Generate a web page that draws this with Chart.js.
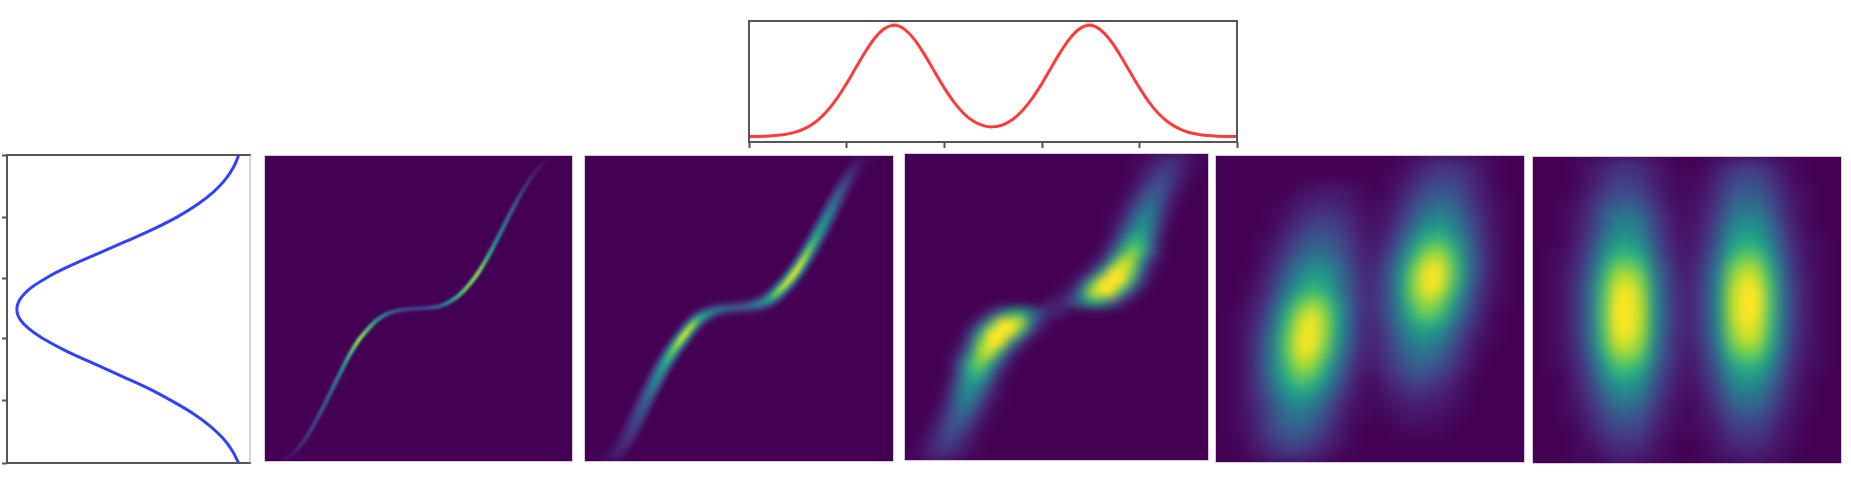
<!DOCTYPE html>
<html>
<head>
<meta charset="utf-8">
<title>Density panels</title>
<script src="https://cdn.jsdelivr.net/npm/chart.js@4/dist/chart.umd.min.js"></script>
<style>
  html, body { margin: 0; padding: 0; background: #fff; overflow: hidden; }
  #page { position: relative; width: 1851px; height: 478px; }
  .panel { position: absolute; overflow: hidden; outline: 1px solid rgba(190, 165, 200, .6); }
  .panel canvas { position: absolute; background: #440154; }
  .plot { position: absolute; filter: blur(.6px); }
</style>
</head>
<body>
<div id="page"></div>
<script>
// top marginal (red)
var topX = [0,.1,.2,.3,.4,.5,.6,.7,.8,.9,1,1.1,1.2,1.3,1.4,1.5,1.6,1.7,1.8,1.9,2,2.1,2.2,2.3,2.4,2.5,2.6,2.7,2.8,2.9,3,3.1,3.2,3.3,3.4,3.5,3.6,3.7,3.8,3.9,4,4.1,4.2,4.3,4.4,4.5,4.6,4.7,4.8,4.9,5];
var topY = [.045,.046,.049,.055,.067,.088,.123,.177,.256,.359,.484,.622,.756,.87,.943,.964,.927,.842,.72,.582,.448,.33,.236,.171,.135,.125,.142,.186,.259,.359,.482,.62,.755,.868,.943,.964,.928,.843,.721,.584,.449,.328,.232,.161,.112,.081,.063,.053,.048,.046,.045];
var topTicks = [0,1.004,2.008,3.01,3.997,5];
var topPeaks = [1.486,3.487];

// left marginal (blue)
var leftV = [.046,.068,.102,.15,.215,.297,.396,.509,.626,.741,.84,.915,.954,.955,.916,.843,.747,.635,.522,.412,.318,.233,.164,.111,.073,.047];
var leftU = [5,4.8,4.6,4.4,4.2,4,3.8,3.6,3.4,3.2,3,2.8,2.6,2.4,2.2,2,1.8,1.6,1.4,1.2,1,.8,.6,.4,.2,0];
var leftTicks = [0,1.013,2.015,2.99,3.99,5];

// panel 1, thin ridge
var ridge1X = [.06,.095,.125,.155,.185,.215,.245,.275,.305,.335,.365,.395,.43,.47,.5,.53,.57,.605,.635,.665,.695,.725,.755,.785,.815,.845,.875,.905,.94];
var ridge1Y = [.004,.028,.064,.112,.168,.228,.289,.348,.396,.432,.462,.481,.493,.498,.5,.502,.508,.524,.546,.578,.618,.668,.725,.784,.842,.895,.94,.974,.997];
var ridge1Core = [2,7,14,21,28,36,46,70,92,78,55,40,28,21,20,24,36,55,72,86,90,68,50,40,28,17,9,4,1];
var ridge1Halo = [1,3,7,10,14,18,23,34,46,38,27,20,14,10,10,12,18,27,36,42,44,33,25,20,14,8,4,2,0];

// panel 2, wider ridge
var ridge2X = [.075,.105,.135,.165,.195,.225,.255,.285,.315,.345,.375,.405,.44,.48,.52,.56,.595,.625,.655,.685,.715,.745,.775,.805,.835,.865,.89,.915];
var ridge2Y = [.005,.035,.078,.135,.198,.258,.315,.362,.403,.44,.468,.485,.497,.502,.506,.514,.53,.554,.585,.622,.668,.72,.775,.832,.888,.935,.97,.992];
var ridge2Core = [4,9,14,21,31,44,60,78,98,90,62,46,36,30,32,42,60,82,96,100,88,66,52,40,26,14,7,3];
var ridge2Mid = [2,5,10,16,23,32,44,54,60,56,38,24,16,13,14,20,36,50,60,62,56,44,36,28,16,8,3,1];
var ridge2Outer = [2,5,9,12,15,18,20,22,23,22,14,7,4,3,4,8,15,21,23,24,22,20,18,14,9,5,2,1];

// panel 3, two blobs with tails
var heat3 = [
  [0,0,0,0,0,0,0,0,0,0,0,0,0,0,0,0,0,0,0,0,0,0,1,2,5,9,11,8,3,1],
  [0,0,0,0,0,0,0,0,0,0,0,0,0,0,0,0,0,0,0,0,0,0,1,4,9,15,14,7,2,0],
  [0,0,0,0,0,0,0,0,0,0,0,0,0,0,0,0,0,0,0,0,0,0,2,7,16,20,13,5,1,0],
  [0,0,0,0,0,0,0,0,0,0,0,0,0,0,0,0,0,0,0,0,0,1,4,13,24,23,10,2,0,0],
  [0,0,0,0,0,0,0,0,0,0,0,0,0,0,0,0,0,0,0,0,0,2,9,23,31,20,6,1,0,0],
  [0,0,0,0,0,0,0,0,0,0,0,0,0,0,0,0,0,0,0,0,1,4,17,34,37,16,3,0,0,0],
  [0,0,0,0,0,0,0,0,0,0,0,0,0,0,0,0,0,0,0,0,2,9,28,44,36,12,1,0,0,0],
  [0,0,0,0,0,0,0,0,0,0,0,0,0,0,0,0,0,0,0,0,3,18,42,54,33,8,0,0,0,0],
  [0,0,0,0,0,0,0,0,0,0,0,0,0,0,0,0,0,0,0,1,8,34,62,60,28,4,0,0,0,0],
  [0,0,0,0,0,0,0,0,0,0,0,0,0,0,0,0,0,0,0,3,20,58,80,66,26,3,0,0,0,0],
  [0,0,0,0,0,0,0,0,0,0,0,0,0,0,0,0,0,0,2,12,52,92,86,46,10,1,0,0,0,0],
  [0,0,0,0,0,0,0,0,0,0,0,0,0,0,0,0,0,1,12,48,100,100,78,28,3,0,0,0,0,0],
  [0,0,0,0,0,0,0,0,0,0,0,0,0,0,0,0,2,16,62,100,100,100,60,14,1,0,0,0,0,0],
  [0,0,0,0,0,0,0,0,0,0,0,0,0,0,0,2,10,40,90,100,98,60,18,2,0,0,0,0,0,0],
  [0,0,0,0,0,0,0,0,0,0,0,0,0,0,7,8,20,36,58,56,30,10,1,0,0,0,0,0,0,0],
  [0,0,0,0,0,0,0,1,10,30,56,58,36,20,8,7,0,0,0,0,0,0,0,0,0,0,0,0,0,0],
  [0,0,0,0,0,0,2,18,60,98,100,90,40,10,2,0,0,0,0,0,0,0,0,0,0,0,0,0,0,0],
  [0,0,0,0,0,1,14,60,100,100,100,62,16,2,0,0,0,0,0,0,0,0,0,0,0,0,0,0,0,0],
  [0,0,0,0,0,3,28,78,100,100,48,12,1,0,0,0,0,0,0,0,0,0,0,0,0,0,0,0,0,0],
  [0,0,0,0,1,10,46,86,92,52,12,2,0,0,0,0,0,0,0,0,0,0,0,0,0,0,0,0,0,0],
  [0,0,0,0,3,26,66,80,58,20,3,0,0,0,0,0,0,0,0,0,0,0,0,0,0,0,0,0,0,0],
  [0,0,0,0,4,28,60,62,34,8,1,0,0,0,0,0,0,0,0,0,0,0,0,0,0,0,0,0,0,0],
  [0,0,0,0,8,33,54,42,18,3,0,0,0,0,0,0,0,0,0,0,0,0,0,0,0,0,0,0,0,0],
  [0,0,0,1,12,36,44,28,9,2,0,0,0,0,0,0,0,0,0,0,0,0,0,0,0,0,0,0,0,0],
  [0,0,0,3,16,37,34,17,4,1,0,0,0,0,0,0,0,0,0,0,0,0,0,0,0,0,0,0,0,0],
  [0,0,1,6,20,31,23,9,2,0,0,0,0,0,0,0,0,0,0,0,0,0,0,0,0,0,0,0,0,0],
  [0,0,2,10,23,24,13,4,1,0,0,0,0,0,0,0,0,0,0,0,0,0,0,0,0,0,0,0,0,0],
  [0,1,5,13,20,16,7,2,0,0,0,0,0,0,0,0,0,0,0,0,0,0,0,0,0,0,0,0,0,0],
  [0,2,7,14,15,9,4,1,0,0,0,0,0,0,0,0,0,0,0,0,0,0,0,0,0,0,0,0,0,0],
  [1,3,8,11,9,5,2,1,0,0,0,0,0,0,0,0,0,0,0,0,0,0,0,0,0,0,0,0,0,0]
];

// panel 4, tilted ellipses
var heat4 = [
  [0,0,0,0,0,0,0,0,0,0,0,0,0,0,1,3,5,7,7,5,3,1,0,0],
  [0,0,0,0,0,0,0,0,0,0,0,0,0,1,2,5,9,12,11,8,4,1,0,0],
  [0,0,0,0,0,0,1,2,3,3,2,1,0,1,4,8,14,17,15,10,5,2,0,0],
  [0,0,0,0,0,1,3,4,5,4,3,1,1,2,6,13,20,24,21,13,6,2,1,0],
  [0,0,0,0,1,2,5,8,9,8,5,2,2,3,9,19,29,33,28,17,8,3,1,0],
  [0,0,0,0,1,4,8,13,14,11,7,3,2,5,13,27,40,44,36,22,10,3,1,0],
  [0,0,0,1,2,7,13,18,20,15,9,4,3,8,20,39,55,59,46,27,11,4,1,0],
  [0,0,0,1,4,10,18,25,25,19,11,5,4,11,28,53,73,76,58,33,13,4,1,0],
  [0,0,0,2,6,16,27,37,36,26,14,5,7,15,37,67,90,89,65,34,14,4,1,0],
  [0,0,1,3,9,22,36,47,45,31,16,8,8,19,44,76,98,93,66,34,13,4,1,0],
  [0,0,1,4,12,28,46,58,52,35,17,7,8,20,45,76,94,86,59,29,10,3,1,0],
  [0,0,2,6,18,40,64,76,66,43,21,8,8,18,41,67,80,70,46,22,8,2,1,0],
  [0,1,3,8,25,53,80,92,77,48,22,8,8,18,37,58,68,58,37,17,6,1,0,0],
  [0,1,3,11,29,60,87,97,78,47,20,6,7,14,30,44,50,41,25,11,4,1,0,0],
  [0,1,4,13,34,65,92,97,75,44,19,6,6,12,24,35,38,30,18,8,2,1,0,0],
  [0,1,4,14,34,64,88,89,66,37,15,5,5,10,19,27,28,21,12,5,1,0,0,0],
  [0,1,4,14,34,59,78,76,54,29,11,4,4,9,15,21,21,16,9,4,1,0,0,0],
  [0,1,4,13,30,51,65,61,42,21,8,2,2,6,10,14,13,10,5,2,0,0,0,0],
  [0,1,4,11,25,41,50,45,30,15,5,2,1,4,6,8,7,5,3,1,0,0,0,0],
  [0,1,3,9,19,31,36,31,20,9,3,1,1,2,3,5,4,3,2,1,0,0,0,0],
  [0,1,3,8,16,25,28,23,14,6,2,1,0,1,2,3,2,2,1,0,0,0,0,0],
  [0,1,2,7,14,20,22,17,10,4,1,0,0,0,1,1,1,1,0,0,0,0,0,0],
  [0,0,2,5,9,13,14,10,6,3,1,0,0,0,0,0,0,0,0,0,0,0,0,0],
  [0,0,1,3,6,8,8,6,3,1,0,0,0,0,0,0,0,0,0,0,0,0,0,0]
];

// panel 5, upright ellipses
var heat5 = [
  [0,0,0,1,2,4,7,7,6,3,1,0,0,1,3,7,8,8,5,2,1,0,0,0],
  [0,0,0,1,3,6,10,10,8,4,2,1,1,2,6,11,14,13,9,4,1,0,0,0],
  [0,0,0,1,4,9,13,14,11,6,2,1,1,3,8,16,19,18,12,5,2,1,0,0],
  [0,0,1,2,6,13,19,20,16,8,3,1,2,4,10,21,25,24,16,7,3,1,0,0],
  [0,0,1,3,8,19,28,29,24,12,5,2,2,5,13,27,33,31,21,9,3,1,0,0],
  [0,0,1,4,10,22,33,35,29,14,6,2,3,7,17,34,42,40,27,12,4,1,0,0],
  [0,0,1,4,12,28,42,44,36,18,7,3,3,8,21,43,51,49,33,15,5,2,1,0],
  [0,1,2,6,16,36,53,55,46,22,9,3,4,10,26,52,63,61,41,18,6,2,1,0],
  [0,1,2,7,20,46,68,71,59,29,12,4,5,13,32,66,79,76,51,22,8,2,1,0],
  [0,1,3,9,24,55,82,85,71,34,14,5,5,15,36,75,90,86,58,25,9,3,1,0],
  [0,1,3,10,27,61,90,94,78,38,15,6,6,16,39,80,97,93,63,27,10,3,1,0],
  [0,1,3,10,28,63,94,98,81,40,16,6,6,16,40,82,99,95,64,28,10,3,1,0],
  [0,1,3,10,28,64,95,99,82,40,16,6,6,16,39,80,96,92,62,27,10,3,1,0],
  [0,1,3,10,27,62,92,96,80,39,16,6,6,15,37,75,91,87,59,26,9,3,1,0],
  [0,1,3,9,25,58,86,89,74,36,14,5,5,13,34,69,83,80,54,24,8,3,1,0],
  [0,1,2,8,22,50,74,77,64,31,12,5,4,11,28,57,69,66,45,20,7,2,1,0],
  [0,1,2,6,17,40,59,61,51,25,10,4,3,9,22,44,53,51,35,15,5,2,1,0],
  [0,0,1,5,13,31,46,48,39,19,8,3,3,7,17,34,42,40,27,12,4,1,0,0],
  [0,0,1,4,10,23,34,36,30,14,6,2,2,5,13,26,32,30,20,9,3,1,0,0],
  [0,0,1,3,8,17,26,27,22,11,4,2,1,4,10,20,24,23,15,7,2,1,0,0],
  [0,0,1,2,5,12,17,18,15,7,3,1,1,3,6,13,16,15,10,4,2,0,0,0],
  [0,0,0,1,4,8,12,13,11,5,2,1,1,2,4,9,11,10,7,3,1,0,0,0],
  [0,0,0,1,2,5,8,8,7,3,1,0,0,1,3,6,7,7,4,2,1,0,0,0],
  [0,0,0,1,1,3,5,5,4,2,1,0,0,1,2,3,4,4,3,1,0,0,0,0]
];

var viridisStops = [[68,1,84],[72,36,117],[65,68,135],[53,95,141],[42,120,142],[33,145,140],[34,168,132],[68,191,112],[122,209,81],[189,223,38],[253,231,37]];

function viridis(v) {
  var t = Math.min(Math.max(v / 100, 0), 1) * 10;
  var i = Math.min(Math.floor(t), 9);
  var f = t - i;
  var a = viridisStops[i], b = viridisStops[i + 1];
  return 'rgb(' + (a[0] + (b[0] - a[0]) * f) + ',' + (a[1] + (b[1] - a[1]) * f) + ',' + (a[2] + (b[2] - a[2]) * f) + ')';
}

function points(xs, ys) {
  return xs.map(function (x, i) { return { x: x, y: ys[i] }; });
}

var page = document.getElementById('page');
var pad = 20;

Chart.defaults.animation = false;
Chart.defaults.responsive = false;
Chart.defaults.plugins.legend.display = false;
Chart.defaults.plugins.tooltip.enabled = false;

function panelCanvas(left, top, w, h, blur) {
  var div = document.createElement('div');
  div.className = 'panel';
  div.style.cssText = 'left:' + left + 'px;top:' + top + 'px;width:' + w + 'px;height:' + h + 'px';
  var c = document.createElement('canvas');
  c.width = w + pad * 2;
  c.height = h + pad * 2;
  c.style.cssText = 'left:-' + pad + 'px;top:-' + pad + 'px;filter:blur(' + blur + 'px)';
  div.appendChild(c);
  page.appendChild(div);
  return c;
}

function plotCanvas(left, top, w, h) {
  var c = document.createElement('canvas');
  c.className = 'plot';
  c.width = w;
  c.height = h;
  c.style.left = left + 'px';
  c.style.top = top + 'px';
  page.appendChild(c);
  return c;
}

// each row is a dataset of floating bars, each bar one cell
// gain and tone make up for what the css blur takes away from peaks and flanks
function heatmap(canvas, rows, gain, tone) {
  var cols = rows[0].map(function (v, i) { return i; });
  new Chart(canvas, {
    type: 'bar',
    data: {
      labels: cols,
      datasets: rows.map(function (row, r) {
        return {
          data: cols.map(function () { return [r, r + 1]; }),
          backgroundColor: row.map(function (v) { return viridis(100 * Math.pow(v / 100, tone) * gain); }),
          borderWidth: 0,
          barPercentage: 1,
          categoryPercentage: 1,
          grouped: false
        };
      })
    },
    options: {
      layout: { padding: pad },
      scales: {
        x: { display: false },
        y: { display: false, min: 0, max: rows.length, reverse: true }
      }
    }
  });
}

// colour runs along the ridge, stops placed with the x scale
function ridgeGradient(chart, xs, vals) {
  var sx = chart.scales.x;
  var x0 = sx.getPixelForValue(xs[0]);
  var x1 = sx.getPixelForValue(xs[xs.length - 1]);
  if (!isFinite(x0) || !isFinite(x1)) return viridis(0); // scale not laid out yet
  var g = chart.ctx.createLinearGradient(x0, 0, x1, 0);
  xs.forEach(function (x, i) {
    g.addColorStop((sx.getPixelForValue(x) - x0) / (x1 - x0), viridis(vals[i]));
  });
  return g;
}

// first dataset ends up on top, so the brightest layer goes first
function ridge(canvas, xs, ys, layers) {
  new Chart(canvas, {
    type: 'scatter',
    data: {
      datasets: layers.map(function (l) {
        return {
          data: points(xs, ys),
          showLine: true,
          pointRadius: 0,
          tension: .4,
          borderWidth: l.width,
          borderCapStyle: 'round',
          borderColor: function (ctx) { return ridgeGradient(ctx.chart, xs, l.vals); }
        };
      })
    },
    options: {
      layout: { padding: pad },
      scales: {
        x: { display: false, min: 0, max: 1 },
        y: { display: false, min: 0, max: 1 }
      }
    }
  });
}

var framePlugin = {
  id: 'frame',
  afterDraw: function (chart, args, opts) {
    var a = chart.chartArea, ctx = chart.ctx;
    ctx.save();
    ctx.strokeStyle = '#555';
    ctx.lineWidth = 2;
    ctx.beginPath();
    ctx.moveTo(a.left, a.top); ctx.lineTo(a.left, a.bottom);
    ctx.moveTo(a.left - 1, a.top); ctx.lineTo(a.right + 1, a.top);
    ctx.moveTo(a.left - 1, a.bottom); ctx.lineTo(a.right + 1, a.bottom);
    if (opts.darkRight) { ctx.moveTo(a.right, a.top); ctx.lineTo(a.right, a.bottom); }
    ctx.stroke();
    if (!opts.darkRight) {
      ctx.strokeStyle = '#aaa';
      ctx.lineWidth = 1;
      ctx.beginPath();
      ctx.moveTo(a.right, a.top); ctx.lineTo(a.right, a.bottom);
      ctx.stroke();
    }
    ctx.restore();
  }
};

var tickGrid = { drawOnChartArea: false, drawTicks: true, tickLength: 6, tickColor: '#555', tickWidth: 2 };

// top marginal
var topSets = [{
  data: points(topX, topY), showLine: true, pointRadius: 0, tension: .4,
  borderColor: '#ff3a3a', borderWidth: 3
}];
topPeaks.forEach(function (p) {
  topSets.push({
    data: points([p, p], [.97, .995]), showLine: true, pointRadius: 0,
    borderColor: '#dcdcdc', borderWidth: 9
  });
});
new Chart(plotCanvas(740, 10, 510, 150), {
  type: 'scatter',
  data: { datasets: topSets },
  options: {
    layout: { padding: { left: 9, top: 11, right: 13, bottom: 12 } },
    plugins: { frame: { darkRight: true } },
    scales: {
      x: {
        min: 0, max: 5,
        grid: tickGrid,
        border: { display: false },
        ticks: { display: false },
        afterBuildTicks: function (s) { s.ticks = topTicks.map(function (v) { return { value: v }; }); },
        afterFit: function (s) { s.height = 6; }
      },
      y: { display: false, min: 0, max: 1 }
    }
  },
  plugins: [framePlugin]
});

// left marginal
new Chart(plotCanvas(0, 150, 256, 320), {
  type: 'scatter',
  data: {
    datasets: [{
      data: points(leftV, leftU), showLine: true, pointRadius: 0, tension: .4,
      borderColor: '#3340ff', borderWidth: 3
    }]
  },
  options: {
    layout: { padding: { left: 0, top: 5, right: 6, bottom: 7 } },
    plugins: { frame: { darkRight: false } },
    scales: {
      x: { display: false, min: 0, max: 1, reverse: true },
      y: {
        min: 0, max: 5,
        grid: Object.assign({}, tickGrid, { tickLength: 5 }),
        border: { display: false },
        ticks: { display: false },
        afterBuildTicks: function (s) { s.ticks = leftTicks.map(function (v) { return { value: v }; }); },
        afterFit: function (s) { s.width = 7; }
      }
    }
  },
  plugins: [framePlugin]
});

ridge(panelCanvas(265, 156, 307, 305, .8), ridge1X, ridge1Y, [
  { vals: ridge1Core, width: 2.5 },
  { vals: ridge1Halo, width: 5 }
]);
ridge(panelCanvas(585, 156, 308, 305, 2), ridge2X, ridge2Y, [
  { vals: ridge2Core, width: 5 },
  { vals: ridge2Mid, width: 10 },
  { vals: ridge2Outer, width: 17 }
]);
heatmap(panelCanvas(905, 154, 303, 306, 5), heat3, 1, .92);
heatmap(panelCanvas(1216, 156, 308, 306, 6), heat4, 1.04, .8);
heatmap(panelCanvas(1533, 157, 308, 306, 6), heat5, 1.04, .8);
</script>
</body>
</html>
